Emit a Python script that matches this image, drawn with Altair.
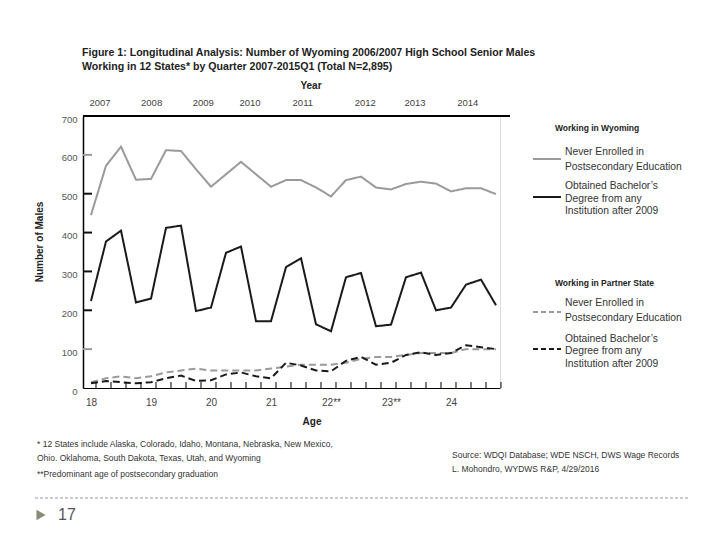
import altair as alt
import pandas as pd

# ---------------- data ----------------
AGES = [18.0, 18.25, 18.5, 18.75, 19.0, 19.25, 19.5, 19.75, 20.0, 20.25, 20.5, 20.75,
        21.0, 21.25, 21.5, 21.75, 22.0, 22.25, 22.5, 22.75, 23.0, 23.25, 23.5, 23.75,
        24.0, 24.25, 24.5, 24.75]
WY_NEVER = [445, 572, 621, 536, 538, 612, 610, 563, 518, 550, 582, 550, 518, 535,
            535, 516, 493, 535, 544, 516, 511, 525, 531, 526, 506, 514, 514, 499]
WY_BACH = [224, 377, 405, 220, 230, 412, 418, 198, 207, 348, 364, 172, 172, 311,
           334, 164, 146, 285, 296, 159, 163, 285, 297, 200, 207, 266, 279, 213]
PT_NEVER = [15, 25, 30, 25, 30, 40, 45, 50, 45, 45, 45, 45, 50, 55,
            60, 60, 60, 65, 75, 80, 80, 85, 90, 90, 90, 100, 100, 100]
PT_BACH = [12, 18, 15, 12, 15, 25, 32, 18, 20, 35, 40, 30, 25, 65,
           58, 45, 43, 70, 80, 60, 65, 85, 92, 85, 90, 110, 105, 100]

SERIES = ["WY Never Enrolled", "WY Bachelor's", "Partner Never Enrolled", "Partner Bachelor's"]
AGE_TICKS = [18, 19, 20, 21, 22, 23, 24]
Y_TICKS = [0, 100, 200, 300, 400, 500, 600, 700]
Y_MARKS = [100, 200, 300, 400, 500, 600]
Y_MARK_COLORS = ["#999999", "#111111", "#111111", "#111111", "#111111", "#999999"]
YEARS = ["2007", "2008", "2009", "2010", "2011", "2012", "2013", "2014"]
YEAR_POS = [18.15, 19.01, 19.87, 20.65, 21.53, 22.57, 23.40, 24.28]

TITLE = ["Figure 1: Longitudinal Analysis: Number of Wyoming 2006/2007 High School Senior Males",
         "Working in 12 States* by Quarter 2007-2015Q1 (Total N=2,895)"]
LEG_HEAD = ["Working in Wyoming", "Working in Partner State"]
LEG_NEVER = ["Never Enrolled in", "Postsecondary Education"]
LEG_BACH = ["Obtained Bachelor\u2019s", "Degree from any", "Institution after 2009"]
FOOT = ["* 12 States include Alaska, Colorado, Idaho, Montana, Nebraska, New Mexico,",
        "Ohio. Oklahoma, South Dakota, Texas, Utah, and Wyoming",
        "**Predominant age of postsecondary graduation"]
SOURCE = ["Source: WDQI Database; WDE NSCH, DWS Wage Records",
          "L. Mohondro, WYDWS R&P, 4/29/2016"]
PAGE = "17"

# ---------------- build ----------------
W, H = 417, 272
GRAY = "#9a9a9a"
BLACK = "#1a1a1a"
FONT = "Liberation Sans"

rows = []
for name, vals in zip(SERIES, [WY_NEVER, WY_BACH, PT_NEVER, PT_BACH]):
    for a, v in zip(AGES, vals):
        rows.append({"age": a, "value": v, "series": name})
df = pd.DataFrame(rows)

xscale = alt.Scale(domain=[17.8667, 24.8167], nice=False, zero=False)
yscale = alt.Scale(domain=[0, 700], nice=False)

xaxis = alt.Axis(values=AGE_TICKS, format="d", ticks=False, grid=False, title=None,
                 labelExpr="(datum.value == 22 || datum.value == 23) ? datum.label + '**' : datum.label",
                 labelFont=FONT, labelFontSize=10, labelColor="#444444", labelOverlap=False,
                 labelPadding=9, domainColor="black", domainWidth=1.2)
yaxis = alt.Axis(values=Y_TICKS, format="d", ticks=False, grid=False, title=None,
                 labelFont=FONT, labelFontSize=9.5, labelColor="#555555", labelOverlap=False,
                 labelPadding=6, labelOffset=3, domainColor="black", domainWidth=1.5)

lines = alt.Chart(df).mark_line(strokeWidth=2).encode(
    x=alt.X("age:Q", scale=xscale, axis=xaxis),
    y=alt.Y("value:Q", scale=yscale, axis=yaxis),
    color=alt.Color("series:N", scale=alt.Scale(domain=SERIES, range=[GRAY, BLACK, GRAY, BLACK]), legend=None),
    strokeDash=alt.StrokeDash("series:N", scale=alt.Scale(domain=SERIES, range=[[1, 0], [1, 0], [7, 4], [7, 4]]), legend=None),
)

xt = alt.Chart(pd.DataFrame({"age": AGES})).mark_rule(color="black", strokeWidth=1, xOffset=5).encode(
    x=alt.X("age:Q", scale=xscale, axis=xaxis), y=alt.value(H - 6), y2=alt.value(H))

yt = alt.Chart(pd.DataFrame({"value": Y_MARKS, "c": Y_MARK_COLORS})).mark_rule(strokeWidth=2).encode(
    y=alt.Y("value:Q", scale=yscale, axis=yaxis), x=alt.value(0), x2=alt.value(9),
    color=alt.Color("c:N", scale=None))

topline = alt.Chart(pd.DataFrame({"a": [0]})).mark_rule(color="black", strokeWidth=2).encode(
    x=alt.value(0), x2=alt.value(W + 10), y=alt.value(0))

years = alt.Chart(pd.DataFrame({"age": YEAR_POS, "year": YEARS})).mark_text(
    font=FONT, fontSize=9.5, color="#444444", baseline="middle").encode(
    x=alt.X("age:Q", scale=xscale, axis=xaxis), y=alt.value(-13), text="year:N")

one = pd.DataFrame({"a": [0]})


def txt(text, x, y, size=9, bold=False, color="#333333", align="left", font=FONT, angle=0):
    kw = dict(font=font, fontSize=size, color=color, align=align, baseline="middle", text=text)
    if bold:
        kw["fontWeight"] = "bold"
    if angle:
        kw["angle"] = angle
    return alt.Chart(one).mark_text(**kw).encode(x=alt.value(x), y=alt.value(y))


def seg(x1, x2, y, color, dash=None, width=2):
    kw = dict(color=color, strokeWidth=width)
    if dash:
        kw["strokeDash"] = dash
    return alt.Chart(one).mark_rule(**kw).encode(x=alt.value(x1), x2=alt.value(x2), y=alt.value(y))


layers = [lines, xt, yt, topline, years]

# title and axis titles
layers.append(txt(TITLE[0], -1, -63, size=10.6, bold=True, color="#222222"))
layers.append(txt(TITLE[1], -1, -49, size=10.6, bold=True, color="#222222"))
layers.append(txt("Year", 228, -30, size=10, bold=True, color="#222222", align="center"))
layers.append(txt("Age", 229, 306, size=10, bold=True, color="#222222", align="center"))
layers.append(txt("Number of Males", -43, 126, size=10, bold=True, color="#222222", align="center", angle=270))

# legend
layers.append(txt(LEG_HEAD[0], 472, 12, size=8.5, bold=True, color="#222222"))
layers.append(seg(450, 478, 43, GRAY))
layers.append(txt(LEG_NEVER[0], 482, 36, size=10.3))
layers.append(txt(LEG_NEVER[1], 482, 51, size=10.3))
layers.append(seg(450, 478, 81, BLACK))
layers.append(txt(LEG_BACH[0], 482, 70, size=10.3))
layers.append(txt(LEG_BACH[1], 482, 83, size=10.3))
layers.append(txt(LEG_BACH[2], 482, 95, size=10.3))

layers.append(txt(LEG_HEAD[1], 472, 167, size=8.5, bold=True, color="#222222"))
layers.append(seg(450, 478, 196, GRAY, dash=[5, 3]))
layers.append(txt(LEG_NEVER[0], 482, 187, size=10.3))
layers.append(txt(LEG_NEVER[1], 482, 202, size=10.3))
layers.append(seg(450, 478, 233, BLACK, dash=[5, 3]))
layers.append(txt(LEG_BACH[0], 482, 223, size=10.3))
layers.append(txt(LEG_BACH[1], 482, 235, size=10.3))
layers.append(txt(LEG_BACH[2], 482, 248, size=10.3))

# footnotes
layers.append(txt(FOOT[0], -46, 328, size=8.5))
layers.append(txt(FOOT[1], -46, 342, size=8.5))
layers.append(txt(FOOT[2], -46, 358, size=8.5))
layers.append(txt(SOURCE[0], 369, 339, size=8.5))
layers.append(txt(SOURCE[1], 369, 353, size=8.5))

# slide footer
layers.append(seg(-48, 607, 382, "#999999", dash=[3, 2], width=1))
layers.append(alt.Chart(one).mark_point(shape="triangle-right", filled=True, color="#8c8a78",
                                        size=110, opacity=1).encode(x=alt.value(-42), y=alt.value(399)))
layers.append(txt(PAGE, -25, 399, size=16, color="#555555"))

chart = alt.layer(*layers).properties(
    width=W, height=H,
    autosize=alt.AutoSizeParams(type="none"),
    padding={"left": 75, "top": 108, "right": 205, "bottom": 140},
).configure_view(stroke=None).configure(background="white")

chart.save("out.html", embed_options={"renderer": "svg", "actions": False})
